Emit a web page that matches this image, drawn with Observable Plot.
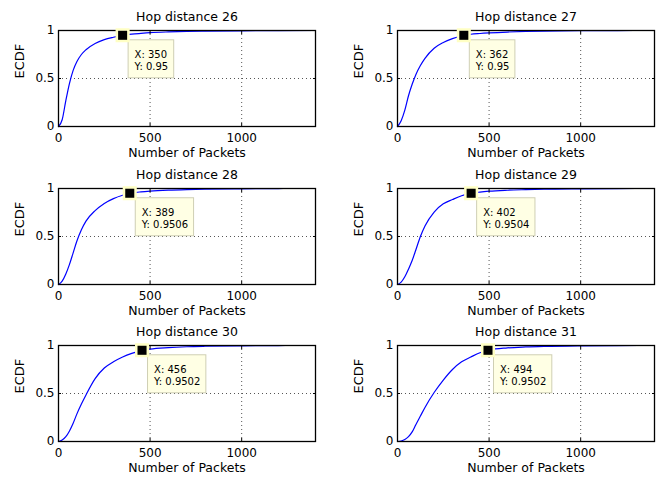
<!DOCTYPE html>
<html>
<head>
<meta charset="utf-8">
<script src="https://cdn.jsdelivr.net/npm/d3@7"></script>
<script src="https://cdn.jsdelivr.net/npm/@observablehq/plot@0.6"></script>
<style>
  html, body { margin: 0; padding: 0; background: #fff; overflow: hidden; }
  #fig { position: relative; width: 663px; height: 477px; background: #fff; }
  .panel { position: absolute; }
</style>
</head>
<body>
<div id="fig"></div>
<script>
// ---- data ----
const hops = [26, 27, 28, 29, 30, 31];
const packets = [0, 20, 40, 60, 80, 100, 125, 150, 200, 250, 300, 350, 400, 450, 500, 600, 700, 800, 1000, 1200];
const ecdf26 = [0, 0.07, 0.27, 0.45, 0.585, 0.675, 0.75, 0.80, 0.865, 0.905, 0.93, 0.95, 0.962, 0.97, 0.977, 0.985, 0.99, 0.993, 0.997, 0.999];
const ecdf27 = [0, 0.06, 0.17, 0.32, 0.44, 0.54, 0.635, 0.71, 0.815, 0.875, 0.915, 0.943, 0.961, 0.969, 0.975, 0.984, 0.99, 0.994, 0.998, 0.9995];
const ecdf28 = [0, 0.035, 0.11, 0.21, 0.33, 0.45, 0.57, 0.66, 0.77, 0.845, 0.895, 0.93, 0.953, 0.965, 0.973, 0.983, 0.989, 0.993, 0.997, 0.9995];
const ecdf29 = [0, 0.025, 0.08, 0.16, 0.25, 0.36, 0.5, 0.61, 0.755, 0.84, 0.885, 0.925, 0.95, 0.963, 0.972, 0.982, 0.988, 0.993, 0.997, 0.9995];
const ecdf30 = [0, 0.015, 0.05, 0.11, 0.19, 0.285, 0.39, 0.485, 0.655, 0.765, 0.83, 0.88, 0.918, 0.947, 0.963, 0.978, 0.987, 0.992, 0.997, 0.9995];
const ecdf31 = [0, 0.005, 0.02, 0.05, 0.1, 0.175, 0.265, 0.355, 0.51, 0.64, 0.75, 0.83, 0.88, 0.925, 0.953, 0.975, 0.985, 0.991, 0.997, 0.9995];
const ecdfs = [ecdf26, ecdf27, ecdf28, ecdf29, ecdf30, ecdf31];
const lastPackets = [1403, 1290, 1250, 1300, 1277, 1316];
const tipX = [350, 362, 389, 402, 456, 494];
const tipY = [0.95, 0.95, 0.9506, 0.9504, 0.9502, 0.9502];
const xTicks = [0, 500, 1000];
const yTicks = [0, 0.5, 1];
const xMax = 1403;
const titlePrefix = "Hop distance ";
const xLabel = "Number of Packets";
const yLabel = "ECDF";

// ---- drawing ----
const FONT = "DejaVu Sans";
const canvas = document.createElement("canvas");
const ctx = canvas.getContext("2d");
ctx.font = `10px "${FONT}"`;

const fig = document.getElementById("fig");
const rowTops = [0, 158, 315];

hops.forEach((hop, k) => {
  const col = k % 2, row = Math.floor(k / 2);
  const left = col === 0 ? 0 : 339;
  const width = col === 0 ? 331 : 324;
  const marginRight = col === 0 ? 16 : 9;

  const curve = packets.map((p, i) => ({packets: p, ecdf: ecdfs[k][i]}));
  curve.push({packets: lastPackets[k], ecdf: 1});
  const tip = [{x: tipX[k], y: tipY[k]}];
  const lines = [`X: ${tipX[k]}`, `Y: ${tipY[k]}`];
  const boxW = Math.max(...lines.map(s => ctx.measureText(s).width)) + 12;

  const chart = Plot.plot({
    width, height: 160,
    marginLeft: 58, marginRight, marginTop: 30, marginBottom: 34,
    x: {domain: [0, xMax], axis: null},
    y: {domain: [0, 1], axis: null},
    style: {fontFamily: FONT, background: "transparent", color: "#000"},
    marks: [
      Plot.gridX(xTicks.slice(1), {stroke: "#555", strokeOpacity: 1, strokeDasharray: "1,3"}),
      Plot.gridY([0.5], {stroke: "#555", strokeOpacity: 1, strokeDasharray: "1,3"}),
      Plot.line(curve, {x: "packets", y: "ecdf", stroke: "#0000ff", strokeWidth: 1.2, curve: "monotone-x"}),
      Plot.frame({stroke: "#000", strokeWidth: 1.3}),
      Plot.axisX(xTicks, {anchor: "bottom", tickSize: -3, tickFormat: () => "", label: null, stroke: "#000"}),
      Plot.axisX(xTicks, {anchor: "top", tickSize: -3, tickFormat: () => "", label: null, stroke: "#000"}),
      Plot.axisY(yTicks, {anchor: "left", tickSize: -3, tickFormat: () => "", label: null, stroke: "#000"}),
      Plot.axisY(yTicks, {anchor: "right", tickSize: -3, tickFormat: () => "", label: null, stroke: "#000"}),
      Plot.text(xTicks, {x: d => d, text: d => String(d), frameAnchor: "bottom", lineAnchor: "top", dy: 7, fontSize: 12, fill: "#000"}),
      Plot.text(yTicks, {y: d => d, text: d => String(d), frameAnchor: "left", textAnchor: "end", dx: -4, fontSize: 12, fill: "#000"}),
      Plot.text([yLabel], {frameAnchor: "left", rotate: -90, dx: -39, fontSize: 13, fill: "#000"}),
      Plot.text([xLabel], {frameAnchor: "bottom", lineAnchor: "top", dy: 22, fontSize: 12.5, fill: "#000"}),
      Plot.text([titlePrefix + hop], {frameAnchor: "top", lineAnchor: "bottom", dy: -10, fontSize: 12.5, fill: "#000"}),
      Plot.rect(tip, {x1: "x", x2: "x", y1: "y", y2: "y",
        insetLeft: 6, insetRight: -(boxW + 6), insetTop: 5, insetBottom: -43,
        fill: "#ffffe4", stroke: "#cfcfb4", strokeWidth: 1}),
      Plot.dot(tip, {x: "x", y: "y", symbol: "square", r: 5.1, fill: "#000",
        stroke: "#ffffc4", strokeWidth: 5, paintOrder: "stroke"}),
      Plot.text(tip, {x: "x", y: "y", text: d => `X: ${d.x}\nY: ${d.y}`,
        textAnchor: "start", lineAnchor: "top", dx: 12, dy: 14, fontSize: 10, lineHeight: 1.2, fill: "#000"})
    ]
  });
  const wrap = document.createElement("div");
  wrap.className = "panel";
  wrap.style.left = left + "px";
  wrap.style.top = rowTops[row] + "px";
  wrap.appendChild(chart);
  fig.appendChild(wrap);
});
</script>
</body>
</html>
